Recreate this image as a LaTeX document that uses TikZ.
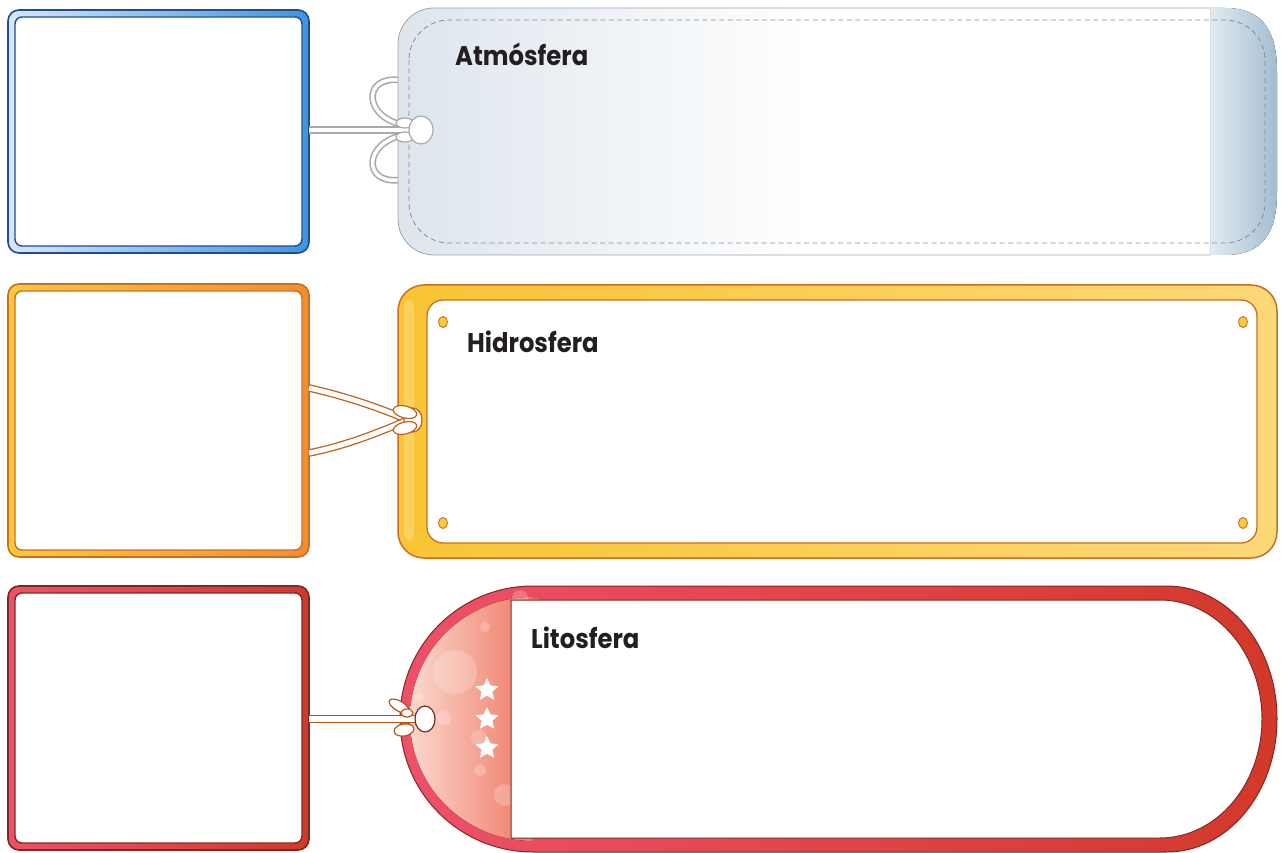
\documentclass[tikz,border=0pt]{standalone}
\usepackage{fontspec}
\newfontfamily\tagfont{Poppins}
\usepackage{tikz}
\usetikzlibrary{shapes.geometric}

\definecolor{inkText}{HTML}{231F20}
\definecolor{atmoEdge}{HTML}{1F4B99}
\definecolor{atmoLight}{HTML}{D8E7F4}
\definecolor{atmoMid}{HTML}{3F95DC}
\definecolor{atmoWash}{HTML}{DDE5ED}
\definecolor{atmoLine}{HTML}{A0A4A8}
\definecolor{atmoFoldL}{HTML}{E3EBF1}
\definecolor{atmoFoldR}{HTML}{A2BED2}
\definecolor{atmoRope}{HTML}{A7A9AC}
\definecolor{hydroEdge}{HTML}{C8701F}
\definecolor{hydroLight}{HTML}{FBC93A}
\definecolor{hydroMid}{HTML}{F58C30}
\definecolor{hydroBandL}{HTML}{F9C534}
\definecolor{hydroBandR}{HTML}{FDD878}
\definecolor{hydroRope}{HTML}{C0601E}
\definecolor{lithoEdge}{HTML}{7A2A24}
\definecolor{lithoLight}{HTML}{EE5069}
\definecolor{lithoMid}{HTML}{D2392A}
\definecolor{lithoPeach}{HTML}{FBD8CB}
\definecolor{lithoSalmon}{HTML}{EF7864}
\definecolor{lithoRope}{HTML}{B5561C}

\tikzset{
  card/.style={rectangle, rounded corners=11pt, inner sep=0pt, outer sep=0pt,
    minimum width=301pt, line width=1.6pt},
  card face/.style={rectangle, rounded corners=7pt, fill=white, inner sep=0pt,
    outer sep=0pt, minimum width=287pt, line width=1.4pt},
  tag label/.style={anchor=base west, inner sep=0pt, text=inkText,
    font=\tagfont\bfseries\fontsize{27}{32}\selectfont, xscale=.9},
  rope/.style={line width=1.5pt, double=white, double distance=5pt},
  knot/.style={fill=white, line width=1.2pt},
  bubble/.style={fill=white, fill opacity=.22},
  star mark/.style={star, star points=5, star point ratio=2.1, fill=white,
    inner sep=0pt, minimum size=24pt}
}

\begin{document}
\begin{tikzpicture}[x=1pt,y=-1pt]
\useasboundingbox (0,0) rectangle (1283,853);

\foreach \name/\cy/\h/\light/\mid/\edge in
{atmo/131.5/243/atmoLight/atmoMid/atmoEdge,
hydro/420.5/273/hydroLight/hydroMid/hydroEdge,
litho/718/264/lithoLight/lithoMid/lithoEdge}
{
\node[card, minimum height=\h, left color=\light, right color=\mid, draw=\edge] (\name-card) at (158.5,\cy) {};
\node[card face, minimum height=\h-14, draw=\edge] (\name-face) at (\name-card.center) {};
}

% atmosfera
\coordinate (atmo-knot) at (421,130);
\draw[rope, draw=atmoRope, line width=1.6pt, double distance=3.5pt] (404,125) .. controls (364,118) and (362,76) .. (399,80);
\draw[rope, draw=atmoRope, line width=1.6pt, double distance=3.5pt] (404,135) .. controls (364,142) and (362,184) .. (399,180);
\path[left color=atmoWash, right color=white, middle color=white, rounded corners=36pt] (1215,8) -- (398,8) -- (398,255) -- (1215,255) -- cycle;
\fill[left color=atmoFoldL, right color=atmoFoldR] (1210,8) -- (1225,8) .. controls (1262,8) and (1277,30) .. (1277,72)
  -- (1277,192) .. controls (1277,234) and (1262,255) .. (1225,255) -- (1210,255) -- cycle;
\draw[atmoLine, line width=.8pt, rounded corners=36pt] (1210,8) -- (398,8) -- (398,255) -- (1210,255);
\draw[atmoLine!40, line width=.6pt] (1210,8) -- (1210,255);
\draw[atmoLine!85!black, line width=.8pt, dash pattern=on 5pt off 3.5pt, rounded corners=40pt] (409,20) rectangle (1265,243);
\draw[rope, draw=atmoRope, line width=2pt, double distance=4pt] (atmo-card.east |- atmo-knot) -- (atmo-knot);
\draw[knot, draw=atmoRope] (405,123) ellipse [x radius=9, y radius=5];
\draw[knot, draw=atmoRope] (405,137) ellipse [x radius=9, y radius=5];
\draw[knot, draw=atmoRope] (atmo-knot) ellipse [x radius=12, y radius=14];
\node[tag label] (atmo-label) at (455,66) {Atmósfera};

% hidrosfera
\coordinate (hydro-knot) at (408,420);
\draw[draw=hydroEdge, line width=1.5pt, rounded corners=26pt, left color=hydroBandL, right color=hydroBandR] (398,285) rectangle (1277,558);
\fill[white, opacity=.22, rounded corners=6pt] (404,300) rectangle (414,540);
\draw[draw=hydroEdge, fill=white, line width=1.3pt, rounded corners=16pt] (427,300) rectangle (1257,543);
\foreach \x/\y in {443/322, 1243/322, 443/523, 1243/523}
  \draw[fill=hydroLight, draw=hydroEdge, line width=.9pt] (\x,\y) ellipse [x radius=4.5, y radius=5.5];
\draw[rope, draw=hydroRope, line width=1.3pt] (hydro-card.east |- 0,388) .. controls (345,396) and (380,408) .. (hydro-knot);
\draw[rope, draw=hydroRope, line width=1.3pt] (hydro-card.east |- 0,453) .. controls (345,446) and (380,432) .. (hydro-knot);
\draw[knot, draw=hydroRope] (413,420) ellipse [x radius=9, y radius=12];
\draw[knot, draw=hydroRope, rotate around={-14:(405,412)}] (405,412) ellipse [x radius=12, y radius=6];
\draw[knot, draw=hydroRope, rotate around={14:(405,428)}] (405,428) ellipse [x radius=12, y radius=6];
\node[tag label] (hydro-label) at (467,352) {Hidrosfera};

% litosfera
\coordinate (litho-knot) at (425,719);
\draw[draw=lithoEdge, line width=1pt, left color=lithoLight, right color=lithoMid] (533,586) -- (1167,586)
  arc[start angle=-90, end angle=90, x radius=110, y radius=133] -- (533,852)
  arc[start angle=90, end angle=270, x radius=133, y radius=133] -- cycle;
\fill[left color=lithoPeach, right color=lithoSalmon] (533,597)
  arc[start angle=270, end angle=90, x radius=123, y radius=122] -- cycle;
\foreach \x/\y/\r in {455/672/22, 485/627/5, 420/697/4, 444/718/7, 479/738/8, 480/770/6, 505/795/11, 520/598/8, 536/604/6}
  \fill[bubble] (\x,\y) circle [radius=\r];
\foreach \i/\y in {1/690, 2/719, 3/748}
  \node[star mark] (litho-star-\i) at (487,\y) {};
\draw[draw=lithoEdge, fill=white, line width=1pt] (511,600) -- (1160,600)
  arc[start angle=-90, end angle=90, x radius=102, y radius=119] -- (511,838) -- cycle;
\draw[rope, draw=lithoRope, line width=1.2pt, double distance=6pt] (litho-card.east |- litho-knot) -- (litho-knot);
\draw[knot, draw=lithoRope, rotate around={-30:(399,706)}] (399,706) ellipse [x radius=11, y radius=5];
\draw[knot, draw=lithoRope] (407,713) ellipse [x radius=6, y radius=4];
\draw[knot, draw=lithoRope, rotate around={10:(404,730)}] (404,730) ellipse [x radius=10, y radius=6];
\draw[knot, draw=lithoEdge] (litho-knot) ellipse [x radius=10, y radius=13];
\node[tag label] (litho-label) at (531,648) {Litosfera};
\end{tikzpicture}
\end{document}
